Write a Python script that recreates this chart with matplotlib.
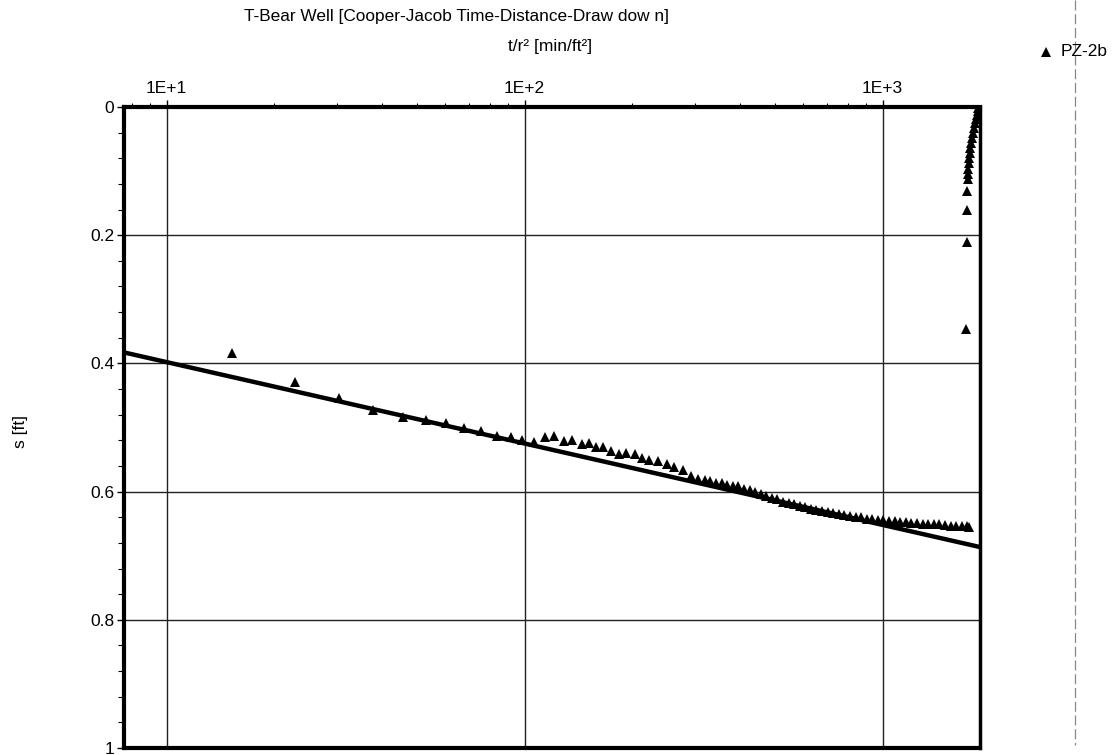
import matplotlib
matplotlib.use("Agg")
import matplotlib.pyplot as plt
import numpy as np
from matplotlib.ticker import FixedLocator, FuncFormatter, LogLocator, NullFormatter
from matplotlib.lines import Line2D

plt.rcParams['font.family'] = ['Liberation Sans', 'DejaVu Sans']

title = "T-Bear Well [Cooper-Jacob Time-Distance-Draw dow n]"
xlabel = "t/r\u00b2 [min/ft\u00b2]"
ylabel = "s [ft]"
series_name = "PZ-2b"

# drawdown data (t/r^2 in min/ft^2, s in ft)
t_r2 = [15.2, 22.9, 30.2, 37.8, 45.7, 52.9, 60.4, 67.9, 75.6, 83.7, 91.3, 98.0,
        106, 114, 120.5, 128.5, 136, 144.5, 151, 158.6, 166, 174.6, 183, 192,
        203, 213, 223, 236, 249, 262, 277, 292, 305,
        318, 330, 342, 355, 368, 381, 395, 410, 425, 440, 456, 473, 490, 508,
        527, 546, 566, 587, 608, 630, 653, 677, 702, 728, 754, 782, 810, 840,
        871, 903, 936, 970, 1005, 1042, 1080, 1120, 1160, 1203, 1247, 1292,
        1340, 1389, 1440, 1492, 1547, 1603, 1662, 1722, 1745,
        1712, 1718, 1718, 1718,
        1726, 1728, 1732, 1738, 1744, 1750, 1758, 1766, 1775, 1785, 1795, 1806,
        1818, 1830, 1842, 1852]
s_ft = [0.384, 0.429, 0.454, 0.472, 0.484, 0.489, 0.493, 0.501, 0.506, 0.514, 0.515, 0.520,
        0.522, 0.515, 0.514, 0.521, 0.520, 0.525, 0.524, 0.530, 0.530, 0.536, 0.541, 0.540,
        0.541, 0.547, 0.550, 0.553, 0.557, 0.561, 0.567, 0.575, 0.580,
        0.582, 0.583, 0.586, 0.587, 0.589, 0.591, 0.592, 0.596, 0.597, 0.600, 0.603, 0.607, 0.610, 0.612,
        0.616, 0.618, 0.620, 0.623, 0.624, 0.627, 0.628, 0.630, 0.632, 0.633, 0.635, 0.637, 0.638, 0.640,
        0.640, 0.642, 0.642, 0.644, 0.645, 0.646, 0.646, 0.648, 0.648, 0.649, 0.649, 0.650,
        0.650, 0.651, 0.651, 0.652, 0.653, 0.653, 0.654, 0.654, 0.655,
        0.346, 0.211, 0.161, 0.131,
        0.112, 0.104, 0.096, 0.088, 0.080, 0.072, 0.064, 0.056, 0.048, 0.040, 0.032, 0.025,
        0.018, 0.012, 0.006, 0.002]

# fitted Cooper-Jacob straight line: s = a + b*log10(t/r^2)
fit_a = 0.271
fit_b = 0.127

x_limits = [7.6, 1870]
y_limits = [1.0, 0.0]
x_major = [10, 100, 1000]
x_major_labels = ["1E+1", "1E+2", "1E+3"]
y_major = [0, 0.2, 0.4, 0.6, 0.8, 1.0]
y_major_labels = ["0", "0.2", "0.4", "0.6", "0.8", "1"]

W, H = 1117, 755
fig = plt.figure(figsize=(W / 100, H / 100), dpi=100)
L, R, T, B = 124, 980, 107, 748
ax = fig.add_axes([L / W, 1 - B / H, (R - L) / W, (B - T) / H])

ax.set_xscale('log')
ax.set_xlim(*x_limits)
ax.set_ylim(*y_limits)

ax.plot(t_r2, s_ft, linestyle='none', marker='^', color='black', markersize=6.8,
        markeredgewidth=0, zorder=3)

xl = np.array(x_limits)
ax.plot(xl, fit_a + fit_b * np.log10(xl), color='black', lw=3.2, zorder=4,
        solid_capstyle='butt')

fs_tick = 12.5
ax.xaxis.set_ticks_position('top')
ax.xaxis.set_major_locator(FixedLocator(x_major))
ax.xaxis.set_major_formatter(FuncFormatter(lambda v, p: x_major_labels[x_major.index(min(x_major, key=lambda m: abs(m - v)))]))
ax.xaxis.set_minor_locator(LogLocator(base=10, subs=np.arange(2, 10), numticks=20))
ax.xaxis.set_minor_formatter(NullFormatter())
ax.tick_params(axis='x', which='major', direction='out', length=5, width=1, labelsize=fs_tick, pad=3)
ax.tick_params(axis='x', which='minor', direction='out', length=3, width=0.8)

ax.yaxis.set_major_locator(FixedLocator(y_major))
ax.yaxis.set_major_formatter(FuncFormatter(lambda v, p: y_major_labels[int(round(v / 0.2))]))
ax.yaxis.set_minor_locator(FixedLocator(np.arange(0, 1.0001, 0.04)))
ax.tick_params(axis='y', which='major', direction='out', length=5, width=1, labelsize=fs_tick, pad=2)
ax.tick_params(axis='y', which='minor', direction='out', length=4, width=0.8)

ax.grid(True, which='major', color='#222222', lw=1.0)
for sp in ax.spines.values():
    sp.set_linewidth(3)
ax.spines['right'].set_linewidth(2.5)

fig.text(456 / W, 1 - 16 / H, title, ha='center', va='center', fontsize=12.4)
fig.text(550 / W, 1 - 47 / H, xlabel, ha='center', va='center', fontsize=12.5)
fig.text(20 / W, 1 - 432 / H, ylabel, ha='center', va='center', rotation=90, fontsize=12.5)

# legend
fig.add_artist(Line2D([1046 / W], [1 - 52 / H], marker='^', color='black', markersize=6.5,
                      markeredgewidth=0, linestyle='none', transform=fig.transFigure))
fig.text(1061 / W, 1 - 52 / H, series_name, ha='left', va='center', fontsize=12.5)

# legend pane border
fig.add_artist(Line2D([1075 / W, 1075 / W], [1.0, 1 - 745 / H], color='#888888', lw=0.9,
                      linestyle=(0, (8, 3)), transform=fig.transFigure))

fig.savefig('out.png', dpi=100)
